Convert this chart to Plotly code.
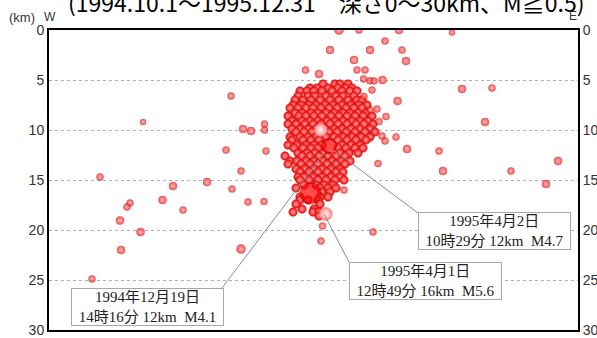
import plotly.graph_objects as go

# ---- data (x: W->E distance in km, depth in km) ----
# scattered events outside the main cluster
out_x = [29.0, 31.0, 35.0, 40.3, 33.6, 28.1, 32.1, 35.3, 30.5, 35.7, 25.65, 27.0, 30.8, 31.6,
         31.45, 32.1, 32.5, 33.35, 41.3, 44.3, 32.3, 31.5, 34.85, 18.2, 32.1, 32.8, 33.7, 33.0,
         43.6, 9.4, 19.4, 20.2, 21.55, 21.55, 33.3, 33.6, 34.7, 35.8, 39.0, 17.7, 21.7, 32.9,
         39.4, 46.2, 50.9, 49.7, 19.2, 5.1, 12.4, 15.8, 18.3, 11.35, 13.4, 19.9, 21.5, 8.1,
         7.8, 7.1, 9.15, 7.2, 19.2, 4.3, 29.5, 32.4, 27.2, 27.35]
out_depth = [0.0, 0.0, 0.0, 0.25, 1.1, 2.0, 2.0, 2.0, 3.0, 3.1, 4.0, 4.4, 4.0, 4.0,
             4.9, 5.07, 5.1, 5.0, 5.9, 5.8, 6.0, 6.65, 7.1, 6.6, 8.0, 7.9, 8.65, 9.15,
             9.2, 9.2, 9.9, 10.1, 9.4, 10.0, 10.6, 11.1, 10.7, 11.9, 12.1, 12.0, 12.1, 13.35,
             14.1, 14.1, 13.1, 15.4, 14.1, 14.7, 15.6, 15.2, 15.9, 17.0, 18.0, 17.2, 17.15, 17.3,
             17.7, 19.05, 20.2, 22.0, 21.9, 24.9, 16.0, 20.2, 21.1, 19.6]
out_size = [9, 7, 8, 6, 7, 8, 8, 7, 8, 8, 7, 8, 7, 7,
            7, 7, 7, 8, 8, 7, 7, 7, 8, 7, 7, 7, 7, 7,
            8, 6, 8, 8, 7, 7, 7, 7, 7, 8, 7, 7, 7, 7,
            8, 7, 8, 8, 7, 7, 8, 8, 7, 8, 7, 7, 7, 7,
            7, 8, 8, 8, 9, 7, 7, 7, 7, 7]

# dense cluster: rows of (depth, [x positions])
cluster_rows = [
    (5.4, [27.4, 28.6, 29.1, 29.9]),
    (5.8, [26.1, 26.8, 27.9, 28.9, 29.7, 30.3]),
    (6.1, [25.1, 25.8, 26.5, 27.3, 28.3, 29.3, 30.1, 30.8]),
    (6.6, [24.9, 25.9, 26.6, 27.7, 28.7, 29.4, 30.5]),
    (7.0, [24.6, 25.4, 26.2, 27.1, 28.1, 29.0, 29.9, 30.8, 31.3]),
    (7.5, [24.4, 25.2, 26.0, 26.7, 27.6, 28.4, 29.3, 30.2, 31.0, 31.8]),
    (7.8, [24.1, 24.9, 25.7, 26.4, 27.2, 28.0, 28.8, 29.7, 30.5, 31.3]),
    (8.3, [24.6, 25.3, 26.2, 26.9, 27.7, 28.5, 29.4, 30.1, 30.9, 31.7]),
    (8.6, [23.9, 25.0, 25.7, 26.5, 27.3, 28.2, 29.0, 29.8, 30.6, 31.4, 32.3]),
    (9.1, [24.3, 25.3, 26.1, 26.9, 27.8, 28.6, 29.4, 30.3, 31.1, 31.9]),
    (9.4, [23.9, 24.7, 25.6, 26.4, 27.2, 28.1, 28.9, 29.8, 30.7, 31.5, 32.4]),
    (9.9, [24.3, 25.1, 25.9, 26.7, 27.6, 28.5, 29.3, 30.2, 31.1, 32.1]),
    (10.2, [24.7, 25.5, 26.3, 28.0, 28.8, 29.7, 30.6, 31.6, 32.6]),
    (10.7, [24.1, 25.1, 25.9, 26.7, 27.7, 28.5, 29.4, 30.3, 31.2, 32.1]),
    (11.0, [24.3, 25.4, 26.2, 27.0, 28.9, 29.8, 30.7, 31.7]),
    (11.5, [23.9, 24.8, 25.7, 26.5, 27.3, 29.3, 30.2, 31.1]),
    (11.8, [24.5, 25.4, 26.2, 26.9, 28.9, 29.7, 30.6, 31.4]),
    (12.3, [24.9, 25.8, 26.6, 27.4, 29.1, 30.0, 30.9]),
    (12.6, [23.6, 25.3, 26.1, 27.0, 27.9, 28.7, 29.6]),
    (13.1, [24.1, 24.8, 25.7, 26.5, 27.4, 28.3, 29.2, 30.1]),
    (13.4, [23.9, 25.2, 26.1, 26.9, 27.8, 28.7, 29.6]),
    (13.9, [24.7, 25.6, 26.5, 27.3, 28.2, 29.1]),
    (14.2, [25.1, 26.0, 26.9, 27.8, 28.7, 29.4]),
    (14.7, [24.9, 25.5, 26.4, 27.3, 28.2, 29.1]),
    (15.0, [25.1, 26.0, 26.9, 27.7, 28.6, 29.5]),
    (15.5, [25.5, 26.7, 27.5, 28.4]),
    (15.8, [24.7, 27.1, 27.9, 28.7]),
    (16.2, [27.3, 28.1]),
    (16.7, [25.1, 27.1, 27.9]),
    (17.0, [25.1, 25.9, 26.9]),
    (17.4, [24.7, 27.1]),
    (17.9, [25.3, 26.5]),
    (18.2, [24.4, 26.4, 27.0]),
    (18.6, [27.0]),
]

# notable larger events
pale_x = [27.17, 27.67]
pale_depth = [10.0, 18.4]
main_x = [28.0, 26.17]
main_depth = [11.6, 16.33]
main_mag = [4.7, 5.6]

# labels
labels = [
    ("1994年12月19日", "14時16分 12km", "M4.1"),
    ("1995年4月2日", "10時29分 12km", "M4.7"),
    ("1995年4月1日", "12時49分 16km", "M5.6"),
]
label_box_center = [(9.8, 27.7), (44.55, 20.1), (37.67, 25.1)]
leader_lines = [((17.3, 25.8), (27.6, 12.2)),
                ((36.9, 18.3), (28.6, 12.1)),
                ((30.0, 23.2), (27.5, 18.4))]

title_text = "(1994.10.1～1995.12.31\u3000深さ0～30km、M≧0.5)"
depth_ticks = [0, 5, 10, 15, 20, 25, 30]

# ---- build ----
cl_x, cl_d = [], []
for d, xs in cluster_rows:
    for x in xs:
        cl_x.append(x)
        cl_d.append(d)

fig = go.Figure()
sphere = dict(color="#f20c0c", line=dict(width=0.5, color="#c80606"),
              gradient=dict(type="radial", color="#ffa0a0"))

fig.add_trace(go.Scatter(x=cl_x, y=cl_d, mode="markers",
                         marker=dict(size=8.5, **sphere), hoverinfo="skip"))
fig.add_trace(go.Scatter(x=out_x, y=out_depth, mode="markers",
                         marker=dict(size=out_size, **sphere), hoverinfo="skip"))
fig.add_trace(go.Scatter(x=pale_x, y=pale_depth, mode="markers",
                         marker=dict(size=13, color="#ff8a8a", line=dict(width=0.5, color="#f06060"),
                                     gradient=dict(type="radial", color="#fff4f4")),
                         hoverinfo="skip"))
fig.add_trace(go.Scatter(x=main_x, y=main_depth, mode="markers",
                         marker=dict(size=[m * 6.7 - 16.5 for m in main_mag], color="#ff0000",
                                     line=dict(width=1, color="#b00000")),
                         hoverinfo="skip"))
# dummy for right axis
fig.add_trace(go.Scatter(x=[0], y=[0], yaxis="y2", mode="markers",
                         marker=dict(opacity=0), hoverinfo="skip", showlegend=False))

for (x0, y0), (x1, y1) in leader_lines:
    fig.add_shape(type="line", x0=x0, y0=y0, x1=x1, y1=y1, xref="x", yref="y",
                  line=dict(color="#8c8c8c", width=1))

for (l1, l2, m), (cx, cy) in zip(labels, label_box_center):
    fig.add_annotation(x=cx, y=cy, xref="x", yref="y", showarrow=False,
                       text=l1 + "<br>" + l2 + "\u00a0\u00a0" + m,
                       font=dict(family="Liberation Serif, Noto Sans CJK JP", size=15, color="#222"),
                       bgcolor="white", bordercolor="#a8a8a8", borderwidth=1, borderpad=1,
                       width=149, height=34, align="center")

fig.add_annotation(x=0, y=1, xref="paper", yref="paper", xanchor="left", yanchor="bottom",
                   xshift=17, yshift=9, showarrow=False, text=title_text,
                   font=dict(family="Noto Sans CJK JP", size=23, color="black"))
fig.add_annotation(x=0, y=1, xref="paper", yref="paper", xanchor="center", yanchor="middle",
                   xshift=-27.5, yshift=12.5, showarrow=False, text="(km)",
                   font=dict(family="Liberation Sans", size=13, color="#333"))
fig.add_annotation(x=0, y=1, xref="paper", yref="paper", xanchor="center", yanchor="middle",
                   xshift=0.5, yshift=13, showarrow=False, text="W",
                   font=dict(family="Liberation Sans", size=12, color="#333"))
fig.add_annotation(x=1, y=1, xref="paper", yref="paper", xanchor="center", yanchor="middle",
                   xshift=-5, yshift=14, showarrow=False, text="E",
                   font=dict(family="Liberation Sans", size=12, color="#333"))

yax = dict(range=[30, 0], tickvals=depth_ticks, ticktext=[str(t) for t in depth_ticks],
           showline=True, linecolor="black", linewidth=2, ticks="", automargin=False,
           tickfont=dict(family="Liberation Sans", size=14, color="#333"), zeroline=False)

fig.update_layout(
    width=597, height=338, margin=dict(l=49, r=19, t=30, b=8, autoexpand=False),
    paper_bgcolor="white", plot_bgcolor="white", showlegend=False,
    xaxis=dict(range=[0, 52.9], showticklabels=False, showgrid=False, zeroline=False,
               showline=True, linecolor="black", linewidth=2, mirror=True, ticks="",
               automargin=False),
    yaxis=dict(**yax, mirror=True, showgrid=True, gridcolor="#b0b0b0", griddash="dot", gridwidth=1),
    yaxis2=dict(**yax, overlaying="y", side="right", showgrid=False),
)

fig.write_html("out.html")
